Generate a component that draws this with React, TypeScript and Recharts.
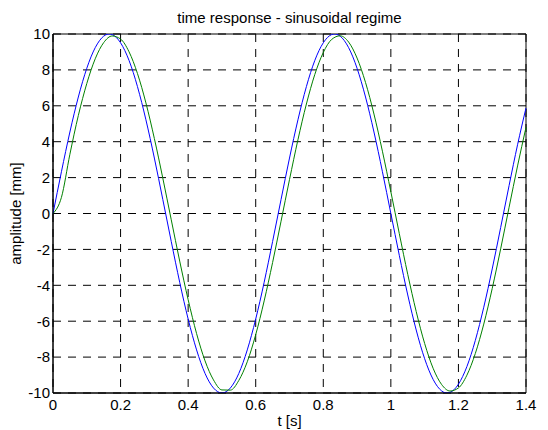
import { LineChart, Line, XAxis, YAxis, CartesianGrid, ReferenceArea } from 'recharts';

// time axis in seconds
const time = [
  0, 0.025, 0.05, 0.075, 0.1, 0.125, 0.15, 0.175, 0.2, 0.225, 0.25, 0.275, 0.3, 0.325, 0.35, 0.375, 0.4, 0.425,
  0.45, 0.475, 0.5, 0.525, 0.55, 0.575, 0.6, 0.625, 0.65, 0.675, 0.7, 0.725, 0.75, 0.775, 0.8, 0.825, 0.85,
  0.875, 0.9, 0.925, 0.95, 0.975, 1, 1.025, 1.05, 1.075, 1.1, 1.125, 1.15, 1.175, 1.2, 1.225, 1.25, 1.275,
  1.3, 1.325, 1.35, 1.375, 1.4,
];

// input (blue) and response (green), amplitude in mm
const inputMm = [
  0, 2.33, 4.54, 6.49, 8.09, 9.24, 9.88, 9.97, 9.51, 8.53, 7.07, 5.22, 3.09, 0.78, -1.56, -3.83, -5.88, -7.6,
  -8.91, -9.72, -10, -9.72, -8.91, -7.6, -5.88, -3.83, -1.56, 0.78, 3.09, 5.22, 7.07, 8.53, 9.51, 9.97, 9.88,
  9.24, 8.09, 6.49, 4.54, 2.33, 0, -2.33, -4.54, -6.49, -8.09, -9.24, -9.88, -9.97, -9.51, -8.53, -7.07, -5.22,
  -3.09, -0.78, 1.56, 3.83, 5.88,
];
const responseMm = [
  0, 0.9, 3.3, 5.46, 7.24, 8.62, 9.52, 9.89, 9.72, 9.01, 7.8, 6.16, 4.18, 1.97, -0.35, -2.65, -4.8, -6.69,
  -8.21, -9.27, -9.83, -9.84, -9.3, -8.26, -6.75, -4.87, -2.73, -0.43, 1.89, 4.11, 6.1, 7.75, 8.97, 9.7, 9.9,
  9.55, 8.66, 7.3, 5.54, 3.47, 1.21, -1.12, -3.39, -5.46, -7.24, -8.62, -9.52, -9.89, -9.72, -9.01, -7.8, -6.16,
  -4.18, -1.97, 0.35, 2.65, 4.8,
];

const xTicks = [0, 0.2, 0.4, 0.6, 0.8, 1, 1.2, 1.4];
const yTicks = [-10, -8, -6, -4, -2, 0, 2, 4, 6, 8, 10];

const data = time.map((t, i) => ({ t, input: inputMm[i], response: responseMm[i] }));

const font = '"Liberation Sans", Arial, sans-serif';
const tickStyle = { fill: '#000', fontSize: 15, fontFamily: font };

export default function App() {
  return (
    <div style={{ position: 'absolute', left: 0, top: 0, width: 548, height: 430, background: '#fff' }}>
      <div
        style={{
          position: 'absolute',
          left: 53,
          width: 473,
          top: 9,
          textAlign: 'center',
          fontFamily: font,
          fontSize: 15,
          lineHeight: '17px',
          color: '#000',
        }}
      >
        time response - sinusoidal regime
      </div>
      <LineChart width={548} height={430} data={data} margin={{ top: 34, right: 22, bottom: 0, left: 0 }}>
        <CartesianGrid stroke="#000" strokeDasharray="8 7" strokeWidth={1} />
        <XAxis
          dataKey="t"
          type="number"
          domain={[0, 1.4]}
          ticks={xTicks}
          height={37}
          tickSize={0}
          tickMargin={6}
          tick={tickStyle}
          axisLine={{ stroke: '#000' }}
          label={{ value: 't [s]', position: 'insideBottom', offset: 4, style: tickStyle }}
        />
        <YAxis
          type="number"
          domain={[-10, 10]}
          ticks={yTicks}
          width={53}
          tickSize={0}
          tickMargin={3}
          tick={tickStyle}
          axisLine={{ stroke: '#000' }}
          allowDataOverflow
          label={{ value: 'amplitude [mm]', angle: -90, position: 'insideLeft', offset: 16, style: { ...tickStyle, textAnchor: 'middle' } }}
        />
        <ReferenceArea x1={0} x2={1.4} y1={-10} y2={10} fill="none" stroke="#000" strokeWidth={1} />
        <Line type="natural" dataKey="input" stroke="#0000ff" strokeWidth={1} dot={false} isAnimationActive={false} />
        <Line type="monotone" dataKey="response" stroke="#008000" strokeWidth={1} dot={false} isAnimationActive={false} />
      </LineChart>
    </div>
  );
}
